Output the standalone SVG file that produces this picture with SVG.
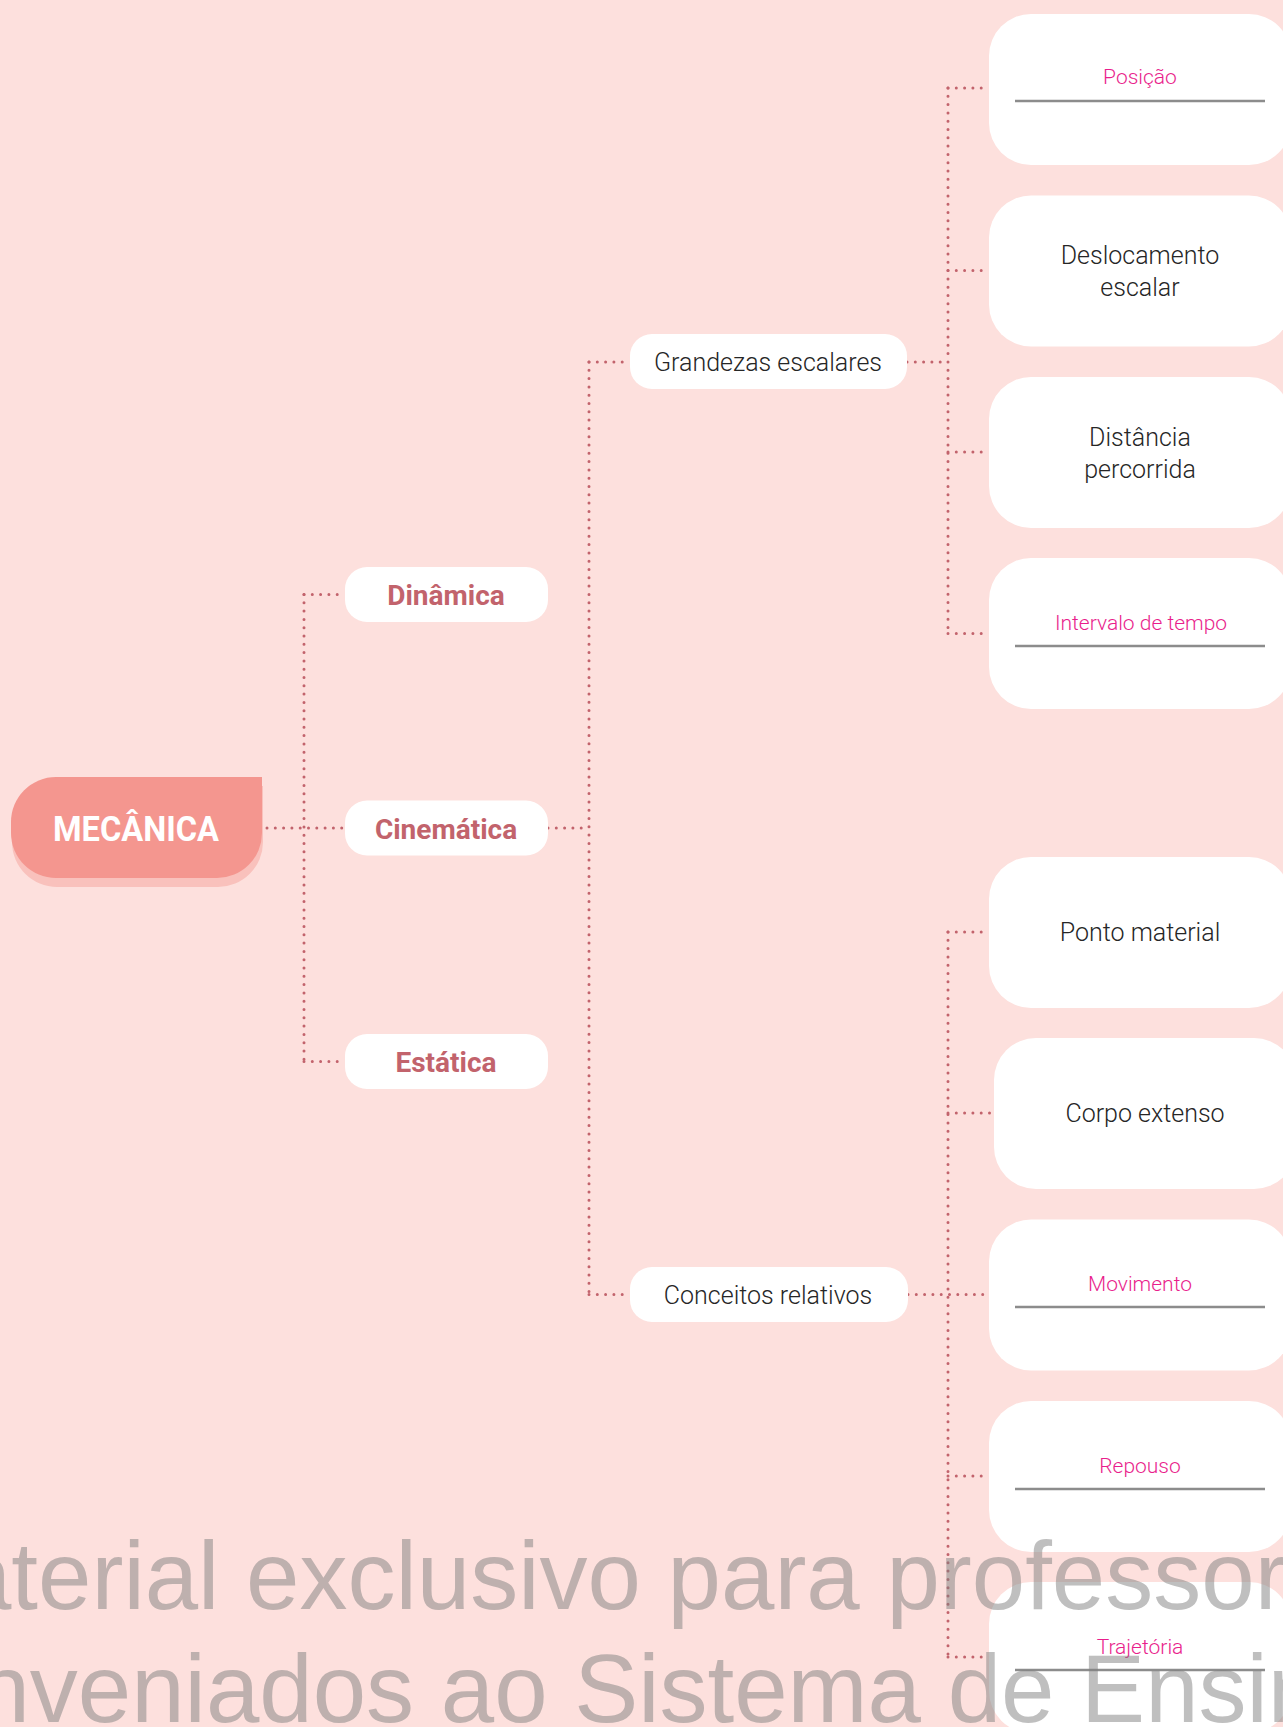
<svg xmlns="http://www.w3.org/2000/svg" width="1283" height="1727" viewBox="0 0 1283 1727">
<style>
.dot{fill:none;stroke:#c2636c;stroke-width:3;stroke-linecap:round;stroke-dasharray:0 8.3}
.pill{fill:#fff}
.big{fill:#fff}
.bold{font-family:Roboto,"Liberation Sans",sans-serif;font-weight:700;font-size:28px;fill:#c2636c;text-anchor:middle}
.reg{font-family:Roboto,"Liberation Sans",sans-serif;font-weight:300;font-size:25px;fill:#262626;text-anchor:middle}
.pink{font-family:Roboto,"Liberation Sans",sans-serif;font-weight:300;font-size:21px;fill:#e91e8c;text-anchor:middle}
.ul{stroke:#8c8c8c;stroke-width:2.5}
.wm{font-family:"Liberation Sans",Arial,sans-serif;font-size:96px;fill:#808080;fill-opacity:0.5}
</style>
<rect x="0" y="0" width="1283" height="1727" fill="#fde0dd"/>

<g id="connectors">
<path class="dot" d="M267 828H345"/>
<path class="dot" d="M304 594.5V1061.5"/>
<path class="dot" d="M304 594.5H345M304 1061.5H345"/>
<path class="dot" d="M548 828H589"/>
<path class="dot" d="M589 362V1294.5"/>
<path class="dot" d="M589 362H630M589 1294.5H630"/>
<path class="dot" d="M907 362H948"/>
<path class="dot" d="M948 88V633.5"/>
<path class="dot" d="M948 88H989M948 270.5H989M948 452H989M948 633.5H989"/>
<path class="dot" d="M908 1294.5H989"/>
<path class="dot" d="M948 932V1657"/>
<path class="dot" d="M948 932H989M948 1113H994M948 1476H989M948 1657H989"/>
</g>

<g id="mecanica">
<path d="M57 786H263V842A45 45 0 0 1 218 887H57A45 45 0 0 1 12 842V831A45 45 0 0 1 57 786Z" fill="#f9c1bc"/>
<path d="M56 777H262V833A45 45 0 0 1 217 878H56A45 45 0 0 1 11 833V822A45 45 0 0 1 56 777Z" fill="#f4968f"/>
<text x="136" y="841" font-family="Roboto,'Liberation Sans',sans-serif" font-weight="700" font-size="35" fill="#fff" text-anchor="middle" textLength="166" lengthAdjust="spacingAndGlyphs">MECÂNICA</text>
</g>

<g id="dinamica">
<rect class="pill" x="345" y="567" width="203" height="55" rx="22"/>
<text class="bold" x="446" y="605">Dinâmica</text>
</g>
<g id="cinematica">
<rect class="pill" x="345" y="800.5" width="203" height="55" rx="22"/>
<text class="bold" x="446" y="839">Cinemática</text>
</g>
<g id="estatica">
<rect class="pill" x="345" y="1034" width="203" height="55" rx="22"/>
<text class="bold" x="446" y="1072">Estática</text>
</g>

<g id="grandezas">
<rect class="pill" x="630" y="334" width="277" height="55" rx="22"/>
<text class="reg" x="768" y="371">Grandezas escalares</text>
</g>
<g id="conceitos">
<rect class="pill" x="630" y="1267" width="278" height="55" rx="22"/>
<text class="reg" x="768" y="1304">Conceitos relativos</text>
</g>

<g id="posicao">
<rect class="big" x="989" y="14" width="302" height="151" rx="42"/>
<text class="pink" x="1140" y="84">Posição</text>
<line class="ul" x1="1015" y1="101" x2="1265" y2="101"/>
</g>
<g id="deslocamento">
<rect class="big" x="989" y="195.5" width="302" height="151" rx="42"/>
<text class="reg" x="1140" y="264">Deslocamento</text>
<text class="reg" x="1140" y="296">escalar</text>
</g>
<g id="distancia">
<rect class="big" x="989" y="377" width="302" height="151" rx="42"/>
<text class="reg" x="1140" y="446">Distância</text>
<text class="reg" x="1140" y="478">percorrida</text>
</g>
<g id="intervalo">
<rect class="big" x="989" y="558" width="302" height="151" rx="42"/>
<text class="pink" x="1141" y="630">Intervalo de tempo</text>
<line class="ul" x1="1015" y1="646" x2="1265" y2="646"/>
</g>

<g id="ponto">
<rect class="big" x="989" y="857" width="302" height="151" rx="42"/>
<text class="reg" x="1140" y="941">Ponto material</text>
</g>
<g id="corpo">
<rect class="big" x="994" y="1038" width="302" height="151" rx="42"/>
<text class="reg" x="1145" y="1122">Corpo extenso</text>
</g>
<g id="movimento">
<rect class="big" x="989" y="1219.5" width="302" height="151" rx="42"/>
<text class="pink" x="1140" y="1291">Movimento</text>
<line class="ul" x1="1015" y1="1307" x2="1265" y2="1307"/>
</g>
<g id="repouso">
<rect class="big" x="989" y="1401" width="302" height="151" rx="42"/>
<text class="pink" x="1140" y="1473">Repouso</text>
<line class="ul" x1="1015" y1="1489" x2="1265" y2="1489"/>
</g>
<g id="trajetoria">
<rect class="big" x="989" y="1582" width="302" height="151" rx="42"/>
<text class="pink" x="1140" y="1654">Trajetória</text>
<line class="ul" x1="1015" y1="1670" x2="1265" y2="1670"/>
</g>

<g id="watermark">
<text class="wm" x="-122" y="1609">Material exclusivo para professores</text>
<text class="wm" x="-125" y="1722">conveniados ao Sistema de Ensino</text>
</g>
</svg>
